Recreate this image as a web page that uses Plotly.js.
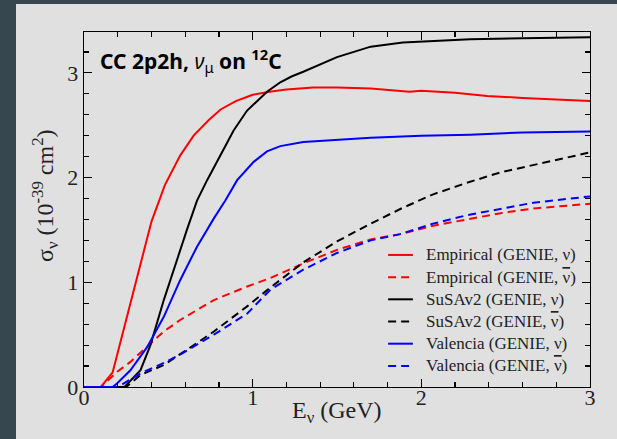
<!DOCTYPE html>
<html>
<head>
<meta charset="utf-8">
<script src="https://cdn.plot.ly/plotly-3.0.1.min.js"></script>
<style>
  html, body { margin: 0; padding: 0; background: #37474f; }
  #frame { position: absolute; left: 16px; top: 4px; width: 601px; height: 435px; background: #e0e0e0; }
  #chart { width: 601px; height: 435px; }
</style>
</head>
<body>
<div id="frame"><div id="chart"></div></div>
<script>
// CC 2p2h cross sections on carbon-12 versus neutrino energy (GeV), in 1e-39 cm^2
const empNuE   = [0, 0.10, 0.17, 0.325, 0.40, 0.48, 0.57, 0.65, 0.74, 0.81, 0.90, 1.00, 1.10, 1.20, 1.36, 1.50, 1.70, 1.93, 2.00, 2.20, 2.39, 2.60, 2.80, 3.00];
const empNuS   = [0, 0, 0.14, 1.12, 1.58, 1.93, 2.21, 2.40, 2.55, 2.65, 2.73, 2.79, 2.82, 2.84, 2.86, 2.86, 2.85, 2.82, 2.83, 2.81, 2.78, 2.76, 2.745, 2.73];

const empNubE  = [0, 0.10, 0.197, 0.275, 0.374, 0.473, 0.57, 0.77, 0.967, 1.105, 1.30, 1.50, 1.70, 1.875, 2.07, 2.27, 2.47, 2.665, 3.00];
const empNubS  = [0, 0, 0.146, 0.24, 0.385, 0.53, 0.64, 0.83, 0.96, 1.04, 1.18, 1.31, 1.41, 1.46, 1.54, 1.60, 1.66, 1.705, 1.75];

const susNuE   = [0, 0.24, 0.335, 0.394, 0.473, 0.57, 0.61, 0.67, 0.73, 0.887, 0.967, 1.085, 1.164, 1.23, 1.30, 1.50, 1.70, 1.89, 2.00, 2.29, 2.60, 3.00];
const susNuS   = [0, 0, 0.16, 0.40, 0.83, 1.31, 1.50, 1.78, 1.975, 2.45, 2.64, 2.82, 2.91, 2.965, 3.01, 3.15, 3.25, 3.29, 3.30, 3.32, 3.33, 3.34];

const susNubE  = [0, 0.25, 0.335, 0.473, 0.67, 0.77, 0.967, 1.105, 1.30, 1.50, 1.70, 1.875, 2.07, 2.27, 2.47, 2.665, 3.00];
const susNubS  = [0, 0, 0.115, 0.21, 0.42, 0.53, 0.77, 0.95, 1.19, 1.39, 1.56, 1.70, 1.84, 1.95, 2.05, 2.12, 2.24];

const valNuE   = [0, 0.17, 0.197, 0.275, 0.374, 0.473, 0.57, 0.67, 0.77, 0.838, 0.908, 1.006, 1.085, 1.164, 1.30, 1.50, 1.70, 2.00, 2.29, 2.60, 3.00];
const valNuS   = [0, 0, 0.035, 0.16, 0.38, 0.67, 1.02, 1.34, 1.61, 1.78, 1.975, 2.15, 2.25, 2.30, 2.34, 2.36, 2.38, 2.40, 2.41, 2.43, 2.44];

const valNubE  = [0, 0.20, 0.236, 0.335, 0.473, 0.57, 0.77, 0.967, 1.105, 1.30, 1.50, 1.70, 1.875, 2.07, 2.27, 2.47, 2.665, 3.00];
const valNubS  = [0, 0, 0.035, 0.13, 0.23, 0.31, 0.50, 0.70, 0.93, 1.12, 1.28, 1.40, 1.46, 1.56, 1.64, 1.70, 1.76, 1.82];

// neutrino / antineutrino symbols (antineutrino drawn with an overline)
const NU = '\u03bd';
const NUBAR = '<span style="text-decoration:overline">\u03bd</span>';
const seriesNames = [
  'Empirical (GENIE, ' + NU + ')',
  'Empirical (GENIE, ' + NUBAR + ')',
  'SuSAv2 (GENIE, ' + NU + ')',
  'SuSAv2 (GENIE, ' + NUBAR + ')',
  'Valencia (GENIE, ' + NU + ')',
  'Valencia (GENIE, ' + NUBAR + ')'
];
const seriesColors = ['#ff0000', '#ff0000', '#000000', '#000000', '#0000ff', '#0000ff'];
const seriesDashed = [false, true, false, true, false, true];

const DASH = '8px,5px';
function line(x, y, i) {
  return {
    x: x, y: y, name: seriesNames[i], type: 'scatter', mode: 'lines',
    line: { color: seriesColors[i], width: 2, dash: seriesDashed[i] ? DASH : 'solid' }
  };
}

const data = [
  line(empNuE, empNuS, 0),
  line(empNubE, empNubS, 1),
  line(susNuE, susNuS, 2),
  line(susNubE, susNubS, 3),
  line(valNuE, valNuS, 4),
  line(valNubE, valNubS, 5)
];

const serif = 'Liberation Serif, Times New Roman, serif';
const axisCommon = {
  showgrid: false, zeroline: false,
  showline: true, linecolor: '#000', linewidth: 1.3, mirror: 'allticks',
  ticks: 'inside', ticklen: 8, tickwidth: 1.2, tickcolor: '#000',
  tickfont: { family: serif, size: 22, color: '#222' },
  minor: { ticks: 'inside', ticklen: 5, tickwidth: 1.2, tickcolor: '#000', dtick: 0.2, showgrid: false }
};

// compact legend block: short line sample + label per series, stacked downward
const legendTop = 0.372, legendStep = 0.0625;
const legendShapes = [], legendLabels = [];
for (let i = 0; i < seriesNames.length; i++) {
  const yy = legendTop - i * legendStep;
  legendShapes.push({
    type: 'line', xref: 'paper', yref: 'paper', x0: 0.601, x1: 0.650, y0: yy, y1: yy,
    line: { color: seriesColors[i], width: 2, dash: seriesDashed[i] ? DASH : 'solid' }
  });
  legendLabels.push({
    xref: 'paper', yref: 'paper', x: 0.672, y: yy, xanchor: 'left', yanchor: 'middle',
    showarrow: false, text: seriesNames[i],
    font: { family: serif, size: 17, color: '#222' }
  });
}

const titleFont = { family: serif, size: 24, color: '#222' };
const axisTitles = [
  {
    xref: 'paper', yref: 'paper', x: 0.5, y: -0.07, xanchor: 'center', yanchor: 'middle',
    showarrow: false, text: 'E<sub>\u03bd</sub> (GeV)', font: titleFont
  },
  {
    xref: 'paper', yref: 'paper', x: -0.077, y: 0.538, xanchor: 'center', yanchor: 'middle',
    showarrow: false, textangle: -90,
    text: '\u03c3<sub>\u03bd</sub> (10<sup>-39</sup> cm<sup>2</sup>)', font: titleFont
  }
];

const layout = {
  width: 601, height: 435,
  paper_bgcolor: '#e0e0e0', plot_bgcolor: '#e0e0e0',
  margin: { l: 68, r: 27, t: 28, b: 52 },
  showlegend: false,
  xaxis: Object.assign({}, axisCommon, { range: [0, 3], dtick: 1, tick0: 0, ticklabelstandoff: -10 }),
  yaxis: Object.assign({}, axisCommon, { range: [0, 3.39], dtick: 1, tick0: 0 }),
  shapes: legendShapes,
  annotations: [{
    xref: 'paper', yref: 'paper', x: 0.028, y: 0.921, xanchor: 'left', yanchor: 'middle',
    showarrow: false,
    text: '<b>CC 2p2h,</b> <i>\u03bd</i><sub>\u03bc</sub> <b>on <sup>12</sup>C</b>',
    font: { family: 'Noto Sans, sans-serif', size: 21, color: '#000' }
  }].concat(axisTitles, legendLabels)
};

Plotly.newPlot('chart', data, layout, { displayModeBar: false, staticPlot: true });
</script>
</body>
</html>
